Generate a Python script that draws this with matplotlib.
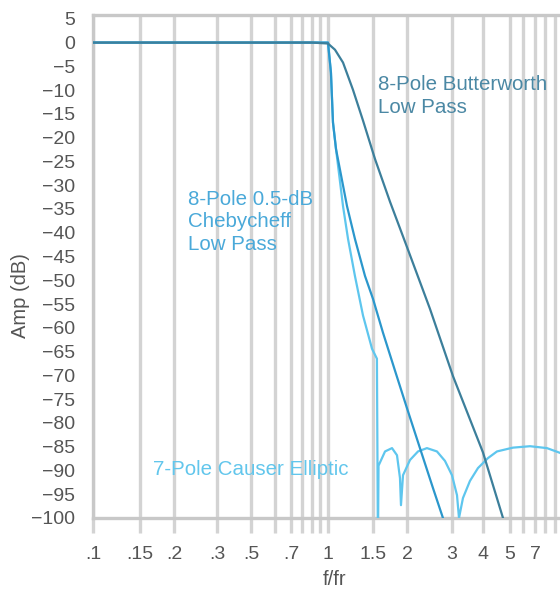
import numpy as np
import matplotlib
matplotlib.use('Agg')
import matplotlib.pyplot as plt

plt.rcParams['font.family'] = ['Liberation Sans', 'DejaVu Sans']

# data (f/fr, dB)
butter_f = [0.1, 0.9, 1.0, 1.065, 1.145, 1.252, 1.371, 1.526, 1.733, 2.0, 2.46, 3.03, 4.0, 4.72]
butter_db = [0, 0, -0.2, -1.5, -4.2, -9.9, -16.4, -24.5, -33.5, -43, -56, -70.2, -86.2, -100]

cheby_f = [0.1, 0.95, 1.0, 1.027, 1.046, 1.075, 1.187, 1.275, 1.396, 1.5, 1.632, 1.807,
           2.0, 2.248, 2.528, 2.766]
cheby_db = [0, 0, 0, -6.3, -16.8, -22.4, -34.4, -41.3, -49.1, -53.9, -61, -69,
            -76.9, -85.3, -93.7, -100]

ellip_f = [0.1, 0.95, 1.0, 1.027, 1.046, 1.075, 1.145, 1.198, 1.275, 1.371, 1.487, 1.551,
           1.562, 1.567, 1.572, 1.661, 1.762, 1.838, 1.885, 1.901, 1.934, 2.055, 2.209,
           2.394, 2.62, 2.817, 3.0, 3.143, 3.202, 3.322, 3.545, 3.818, 4.169, 4.491,
           5.214, 6.565, 8.19, 9.49]
ellip_db = [0, 0, 0, -6.3, -16.8, -22.4, -34.4, -41.3, -49.1, -57.4, -64.4, -66.5,
            -100, -100, -89, -86, -85.3, -86.8, -91.6, -97.3, -91, -87.8, -86,
            -85.3, -86, -88, -91, -95.2, -100, -95.8, -92.2, -89.5, -87.4, -86,
            -85.2, -84.9, -85.3, -86.3]

xlab_ticks = [0.1, 0.15, 0.2, 0.3, 0.5, 0.7, 1, 1.5, 2, 3, 4, 5, 7]
xlab_text = ['.1', '.15', '.2', '.3', '.5', '.7', '1', '1.5', '2', '3', '4', '5', '7']
xminor_ticks = [0.6, 0.8, 0.9, 0.95, 6, 8, 9]

# the printed chart's frequency axis is not a true log axis; piecewise log scale
anchor_f = np.log10([0.1, 0.15, 0.2, 0.3, 0.5, 0.6, 0.7, 0.8, 0.9, 0.95, 1, 1.5, 2, 3, 4, 5, 6, 7, 8, 9, 10])
anchor_u = np.array([93, 140, 174, 217, 251, 275, 291, 302, 312, 320, 328, 373, 407, 452, 483, 510, 523, 535, 545, 555, 565], float)

def fwd(x):
    x = np.asarray(x, float)
    return np.interp(np.log10(np.clip(x, 1e-3, None)), anchor_f, anchor_u)

def inv(u):
    return 10 ** np.interp(np.asarray(u, float), anchor_u, anchor_f)

fig = plt.figure(figsize=(5.6, 5.89), dpi=100)
ax = fig.add_axes([93 / 560, 71 / 589, 467 / 560, 503 / 589])
ax.set_xscale('function', functions=(fwd, inv))
ax.set_xlim(0.1, 9.49)
ax.set_ylim(-100, 5.8)

ax.plot(ellip_f, ellip_db, color='#5ec6ee', lw=1.6, zorder=3)
ax.plot(cheby_f, cheby_db, color='#2b97cc', lw=1.6, zorder=4)
ax.plot(butter_f, butter_db, color='#3c7f9b', lw=1.6, zorder=5)

ax.set_xticks(xlab_ticks)
ax.set_xticklabels(xlab_text)
ax.set_xticks(xminor_ticks, minor=True)
ax.set_yticks(np.arange(-100, 6, 5))
ax.set_yticklabels([str(v) if v >= 0 else '\u2212' + str(-v) for v in range(-100, 6, 5)])
ax.set_yticks(np.arange(-95, 0, 10), minor=True)

ax.grid(True, axis='x', which='both', color='#d3d3d3', lw=2.4, zorder=0)
ax.grid(True, axis='y', which='minor', color='#c0c0c0', lw=2.0, zorder=0)
ax.grid(False, axis='y', which='major')

ax.tick_params(axis='x', which='both', length=11, width=2.4, color='#d3d3d3', pad=9,
               labelsize=14, labelcolor='#555555')
ax.tick_params(axis='y', which='major', length=0, pad=13, labelsize=14, labelcolor='#555555')
ax.tick_params(axis='y', which='minor', length=7, width=2.0, color='#c0c0c0')

ax.spines['right'].set_visible(False)
for side in ['top', 'bottom', 'left']:
    ax.spines[side].set_color('#c8c8c8')
    ax.spines[side].set_linewidth(2.4)

ax.set_xlabel('f/fr', fontsize=14.5, color='#555555')
ax.set_ylabel('Amp (dB)', fontsize=14.5, color='#555555')
ax.xaxis.set_label_coords(0.518, -0.103)
ax.yaxis.set_label_coords(-0.135, 0.443)

ax.text(1.56, -11.2, '8-Pole Butterworth\nLow Pass', color='#4b88a4', fontsize=14.8,
        ha='left', va='center', linespacing=1.25)
ax.text(0.228, -37.7, '8-Pole 0.5-dB\nChebycheff\nLow Pass', color='#4aa9d9', fontsize=14.8,
        ha='left', va='center', linespacing=1.25)
ax.text(0.1675, -89.7, '7-Pole Causer Elliptic', color='#62c6ec', fontsize=14.8,
        ha='left', va='center')

plt.savefig('out.png', dpi=100)
